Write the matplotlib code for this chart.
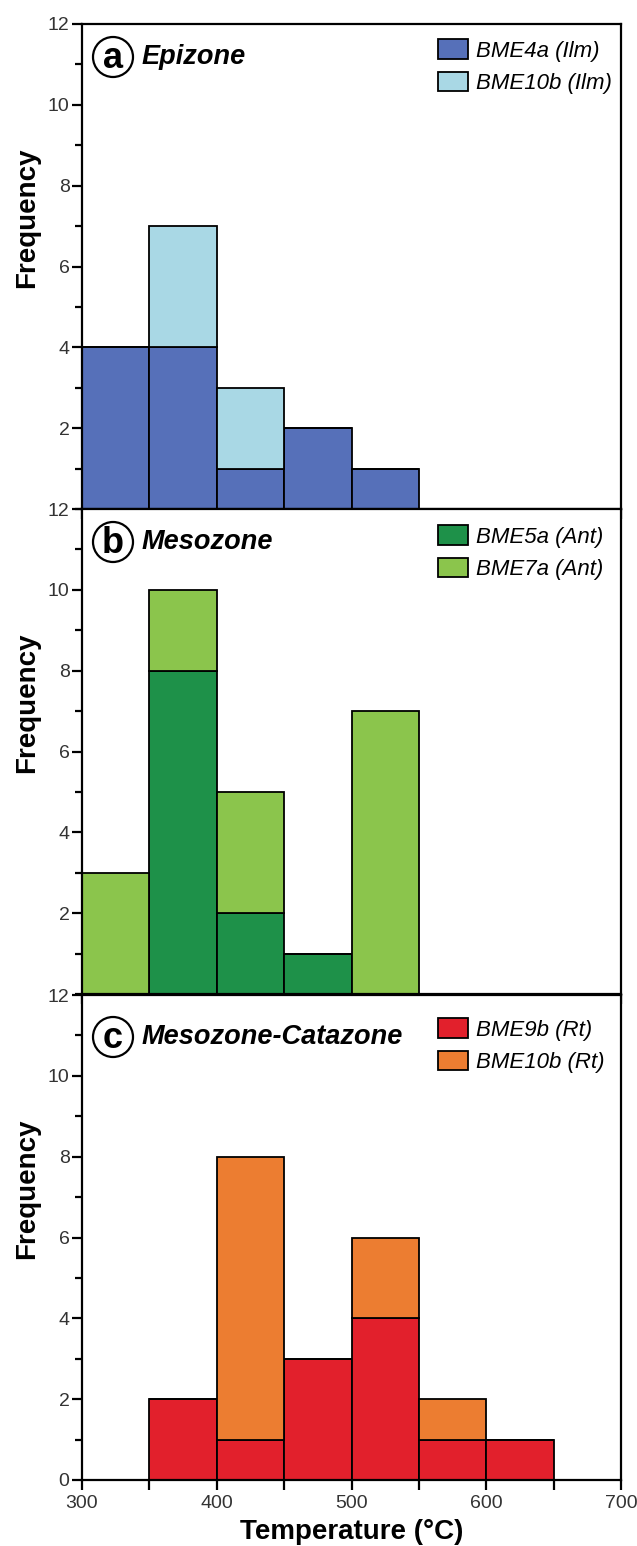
import matplotlib
matplotlib.use("Agg")
import matplotlib.pyplot as plt
from matplotlib.patches import Ellipse
from matplotlib.ticker import MultipleLocator, FixedLocator
import numpy as np

plt.rcParams['font.family'] = ['Liberation Sans', 'DejaVu Sans']

# ---------------- data ----------------
bin_edges = [300, 350, 400, 450, 500, 550, 600, 650]

# Panel a: Epizone
a_labels = ["BME4a (Ilm)", "BME10b (Ilm)"]
a_bme4a = [4, 4, 1, 2, 1, 0, 0]
a_bme10b = [0, 3, 2, 0, 0, 0, 0]

# Panel b: Mesozone
b_labels = ["BME5a (Ant)", "BME7a (Ant)"]
b_bme5a = [0, 8, 2, 1, 0, 0, 0]
b_bme7a = [3, 2, 3, 0, 7, 0, 0]

# Panel c: Mesozone-Catazone
c_labels = ["BME9b (Rt)", "BME10b (Rt)"]
c_bme9b = [0, 2, 1, 3, 4, 1, 1]
c_bme10b = [0, 0, 7, 0, 2, 1, 0]

panel_letters = ["a", "b", "c"]
panel_titles = ["Epizone", "Mesozone", "Mesozone-Catazone"]
colors = [("#5670b9", "#a9d8e5"), ("#1e9149", "#8bc54c"), ("#e2202c", "#ec7d31")]

xticks_major = [300, 400, 500, 600, 700]
yticks_ab = [2, 4, 6, 8, 10, 12]
yticks_c = [0, 2, 4, 6, 8, 10, 12]

# ---------------- figure ----------------
W, H = 637, 1546
fig = plt.figure(figsize=(W / 100, H / 100), dpi=100)

left_px, right_px = 82, 621
tops = [24, 509, 995]
ax_h = 485

datasets = [
    (a_bme4a, a_bme10b, a_labels),
    (b_bme5a, b_bme7a, b_labels),
    (c_bme9b, c_bme10b, c_labels),
]

leg_offsets = [19, 20, 27]
circ_offsets = [33, 33, 42]

lefts = np.array(bin_edges[:-1])
width = 50

for i, (top, (low, high, labels)) in enumerate(zip(tops, datasets)):
    ax = fig.add_axes([left_px / W, 1 - (top + ax_h) / H,
                       (right_px - left_px) / W, ax_h / H])
    ax.set_xlim(300, 700)
    ax.set_ylim(0, 12)
    c1, c2 = colors[i]
    ax.bar(lefts, low, width=width, align='edge', color=c1,
           edgecolor='black', linewidth=1.3, label=labels[0], zorder=2)
    ax.bar(lefts, high, width=width, bottom=low, align='edge', color=c2,
           edgecolor='black', linewidth=1.3, label=labels[1], zorder=2)

    for s in ax.spines.values():
        s.set_linewidth(1.6)

    ax.xaxis.set_major_locator(FixedLocator(xticks_major))
    ax.xaxis.set_minor_locator(MultipleLocator(50))
    ax.yaxis.set_major_locator(FixedLocator(yticks_c if i == 2 else yticks_ab))
    ax.yaxis.set_minor_locator(MultipleLocator(1))
    ax.tick_params(axis='both', which='both', direction='out', width=1.6,
                   colors='black', labelcolor='#333333', labelsize=14)
    ax.tick_params(axis='y', which='major', length=7, pad=2)
    ax.tick_params(axis='y', which='minor', length=5)
    ax.tick_params(axis='x', which='both', length=7, pad=4)
    if i < 2:
        ax.tick_params(axis='x', labelbottom=False)
    else:
        ax.set_xlabel("Temperature (°C)", fontsize=20, fontweight='bold', labelpad=5)

    ax.set_ylabel("Frequency", fontsize=20, fontweight='bold')
    ax.yaxis.set_label_coords(-0.078, 0.6)

    # circled panel letter
    cx = (113 - left_px) / (right_px - left_px)
    cy = 1 - circ_offsets[i] / ax_h
    ell = Ellipse((cx, cy), 40 / (right_px - left_px), 40 / ax_h,
                  transform=ax.transAxes, facecolor='white', edgecolor='black',
                  linewidth=1.6, zorder=5)
    ax.add_patch(ell)
    ax.text(cx, cy - 1.5 / ax_h, panel_letters[i], transform=ax.transAxes,
            ha='center', va='center', fontsize=26, fontweight='bold', zorder=6)
    ax.text((142 - left_px) / (right_px - left_px), cy, panel_titles[i],
            transform=ax.transAxes, ha='left', va='center',
            fontsize=19.5, fontweight='bold', fontstyle='italic', zorder=6)

    leg = ax.legend(loc='upper left',
                    bbox_to_anchor=((438 - left_px) / (right_px - left_px),
                                    1 - (leg_offsets[i] - 4) / ax_h),
                    frameon=False, borderpad=0, borderaxespad=0,
                    handlelength=1.35, handleheight=1.0, handletextpad=0.35,
                    labelspacing=0.45, prop={'size': 16, 'style': 'italic'})
    for p in leg.get_patches():
        p.set_linewidth(1.3)

fig.savefig("out.png", dpi=100)
